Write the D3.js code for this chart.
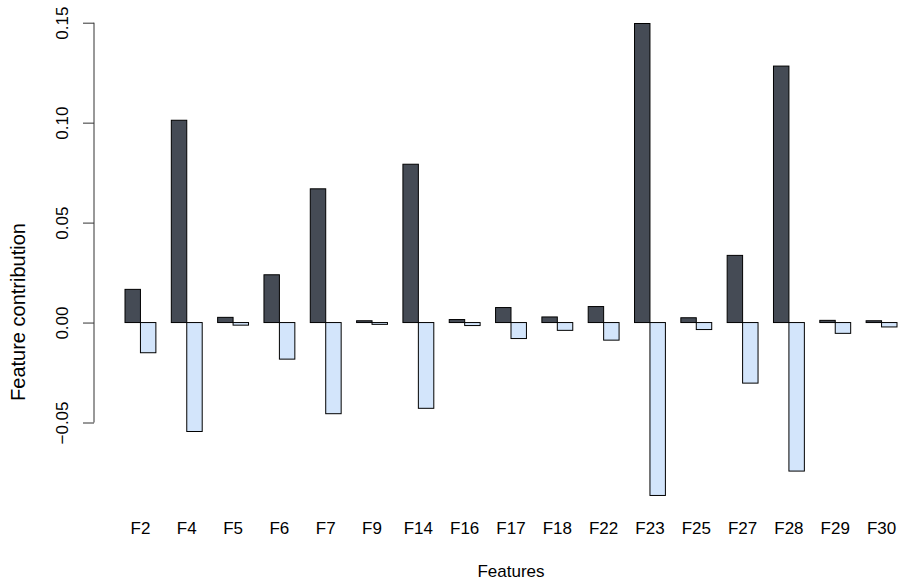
<!DOCTYPE html>
<html>
<head>
<meta charset="utf-8">
<script src="https://cdn.jsdelivr.net/npm/d3@7"></script>
<style>
  html, body { margin: 0; padding: 0; background: #fff; }
  svg { display: block; }
  text { font-family: "Liberation Sans", Arial, Helvetica, sans-serif; fill: #000; }
</style>
</head>
<body>
<svg id="chart" width="901" height="586"></svg>
<script>
const features = ["F2","F4","F5","F6","F7","F9","F14","F16","F17","F18","F22","F23","F25","F27","F28","F29","F30"];
const positiveValues = [0.0166,0.1012,0.0026,0.0239,0.0669,0.0009,0.0792,0.0015,0.0075,0.0028,0.0080,0.1496,0.0024,0.0336,0.1283,0.0011,0.0009];
const negativeValues = [-0.0151,-0.0545,-0.0013,-0.0183,-0.0456,-0.0009,-0.0429,-0.0015,-0.0080,-0.0039,-0.0088,-0.0865,-0.0035,-0.0303,-0.0743,-0.0054,-0.0022];
const seriesKeys = ["pos","neg"];
const seriesColors = ["#454b55","#d3e5fb"];
const yTicks = [-0.05, 0.00, 0.05, 0.10, 0.15];
const yTickLabels = ["\u22120.05","0.00","0.05","0.10","0.15"];
const xTitle = "Features";
const yTitle = "Feature contribution";

const svg = d3.select("#chart");
const fs = 17;

const y = d3.scaleLinear().domain([-0.05, 0.15]).range([422.5, 22.7]);
const x0 = d3.scaleBand().domain(features).range([125, 897]).paddingInner(1/3).paddingOuter(0);
const x1 = d3.scaleBand().domain(seriesKeys).range([0, x0.bandwidth()]);

const rows = features.map((f, i) => ({ f, vals: [positiveValues[i], negativeValues[i]] }));

const g = svg.append("g");
const groups = g.selectAll("g.grp").data(rows).join("g")
  .attr("transform", d => `translate(${x0(d.f)},0)`);
groups.selectAll("rect").data(d => d.vals.map((v, k) => ({ v, k })))
  .join("rect")
  .attr("x", d => x1(seriesKeys[d.k]))
  .attr("width", x1.bandwidth())
  .attr("y", d => Math.min(y(d.v), y(0)))
  .attr("height", d => Math.abs(y(d.v) - y(0)))
  .attr("fill", d => seriesColors[d.k])
  .attr("stroke", "#000")
  .attr("stroke-width", 1);

// Y axis
const yAxis = d3.axisLeft(y).tickValues(yTicks).tickSize(11).tickFormat((d, i) => yTickLabels[i]);
const ya = svg.append("g").attr("transform", "translate(94,0)").call(yAxis);
ya.select(".domain").attr("stroke", "#333").attr("d", `M0,${y(0.15)}V${y(-0.05)}`);
ya.selectAll(".tick line").attr("stroke", "#333");
ya.selectAll(".tick text")
  .attr("font-size", fs)
  .attr("font-family", "Liberation Sans, Arial, sans-serif")
  .attr("x", 0).attr("dy", null)
  .attr("text-anchor", "middle")
  .attr("transform", "translate(-26,0) rotate(-90)");

// X labels (no axis line)
const xa = svg.append("g");
xa.selectAll("text").data(features).join("text")
  .attr("x", d => x0(d) + x0.bandwidth() / 2)
  .attr("y", 534)
  .attr("text-anchor", "middle")
  .attr("font-size", fs)
  .text(d => d);

// Titles
svg.append("text").attr("x", 511).attr("y", 577).attr("text-anchor", "middle")
  .attr("font-size", fs).text(xTitle);
svg.append("text").attr("transform", "translate(25,312) rotate(-90)").attr("text-anchor", "middle")
  .attr("font-size", 20)
  .text(yTitle);
</script>
</body>
</html>
